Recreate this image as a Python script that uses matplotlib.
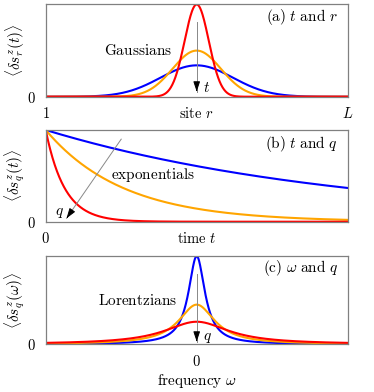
import numpy as np
import matplotlib
matplotlib.use("Agg")
import matplotlib.pyplot as plt

plt.rcParams['mathtext.fontset'] = 'cm'
plt.rcParams['font.family'] = 'DejaVu Serif'

# ---- data ----
colors = ['#0000ff', '#ffa500', '#ff0000']          # blue, orange, red
# (a) Gaussians in site r: peak heights and widths (fraction of chain)
gauss_heights = [0.34, 0.50, 1.00]
gauss_widths = [0.12, 0.08, 0.04]
# (b) exponential decay rates in t (time axis 0..1)
decay_rates = [1.0, 3.9, 16.0]
# (c) Lorentzians in omega (axis -1..1)
lorentz_heights = [1.00, 0.45, 0.256]
lorentz_widths = [0.066, 0.146, 0.26]

texts = {
    'a': r"$\mathrm{(a)}\ t\ \mathrm{and}\ r$",
    'b': r"$\mathrm{(b)}\ t\ \mathrm{and}\ q$",
    'c': r"$\mathrm{(c)}\ \omega\ \mathrm{and}\ q$",
}
fs = 11
tfs = 10.5
spine_col = '#808080'

fig = plt.figure(figsize=(3.74, 3.92), dpi=100)
axa = fig.add_axes([0.1222, 0.7533, 0.8075, 0.2365])
axb = fig.add_axes([0.1222, 0.4344, 0.8075, 0.2340])
axc = fig.add_axes([0.1222, 0.1217, 0.8075, 0.2260])

for ax in (axa, axb, axc):
    for s in ax.spines.values():
        s.set_color(spine_col)
        s.set_linewidth(0.9)
    ax.tick_params(length=0, labelsize=tfs, pad=7)

def down_arrow(ax, x0, y0, x1, y1):
    ax.plot([x0, x1], [y0, y1], color='#888888', lw=0.7, zorder=5)
    dx, dy = x1 - x0, y1 - y0
    ax.annotate('', xy=(x1, y1), xytext=(x1 - 0.02 * dx, y1 - 0.02 * dy),
                arrowprops=dict(arrowstyle='-|>,head_length=0.6,head_width=0.2',
                                color='black', lw=0.7, shrinkA=0, shrinkB=0),
                zorder=6)

ylab_pad = 0.5

# (a)
r = np.linspace(0, 1, 800)
for h, w, c in zip(gauss_heights, gauss_widths, colors):
    axa.plot(r, h * np.exp(-0.5 * ((r - 0.5) / w) ** 2), color=c, lw=1.5)
axa.set_xlim(0, 1)
axa.set_ylim(0, 1.005)
axa.set_xticks([0, 0.5, 1])
axa.set_xticklabels([r"$1$", r"$\mathrm{site}\ r$", r"$L$"])
axa.set_yticks([0])
axa.set_yticklabels([r"$0$"])
axa.set_ylabel(r"$\langle \delta s^z_r(t)\rangle$", fontsize=fs, labelpad=ylab_pad)
down_arrow(axa, 0.5, 0.81, 0.5, 0.055)
axa.text(0.52, 0.09, r"$t$", fontsize=fs, va='center', ha='left')
axa.text(0.307, 0.50, r"$\mathrm{Gaussians}$", fontsize=fs, ha='center', va='center')
axa.text(0.968, 0.86, texts['a'], fontsize=fs, ha='right', va='center')

# (b)
t = np.linspace(0, 1, 800)
for k, c in zip(decay_rates, colors):
    axb.plot(t, np.exp(-k * t), color=c, lw=1.5)
axb.set_xlim(0, 1)
axb.set_ylim(0, 1.0)
axb.set_xticks([0, 0.5])
axb.set_xticklabels([r"$0$", r"$\mathrm{time}\ t$"])
axb.set_yticks([0])
axb.set_yticklabels([r"$0$"])
axb.set_ylabel(r"$\langle \delta s^z_q(t)\rangle$", fontsize=fs, labelpad=ylab_pad)
down_arrow(axb, 0.25, 0.90, 0.069, 0.037)
axb.text(0.046, 0.09, r"$q$", fontsize=fs, va='center', ha='center')
axb.text(0.354, 0.51, r"$\mathrm{exponentials}$", fontsize=fs, ha='center', va='center')
axb.text(0.968, 0.85, texts['b'], fontsize=fs, ha='right', va='center')

# (c)
w = np.linspace(-1, 1, 1200)
for h, g, c in zip(lorentz_heights, lorentz_widths, colors):
    axc.plot(w, h * g ** 2 / (w ** 2 + g ** 2), color=c, lw=1.5)
axc.set_xlim(-1, 1)
axc.set_ylim(0, 1.005)
axc.set_xticks([0])
axc.set_xticklabels([r"$0$"])
axc.set_yticks([0])
axc.set_yticklabels([r"$0$"])
axc.set_xlabel(r"$\mathrm{frequency}\ \omega$", fontsize=fs, labelpad=2)
axc.set_ylabel(r"$\langle \delta s^z_q(\omega)\rangle$", fontsize=fs, labelpad=ylab_pad)
down_arrow(axc, 0.0, 0.80, 0.0, 0.03)
axc.text(0.04, 0.07, r"$q$", fontsize=fs, va='center', ha='left')
axc.text(-0.392, 0.50, r"$\mathrm{Lorentzians}$", fontsize=fs, ha='center', va='center')
axc.text(0.936, 0.86, texts['c'], fontsize=fs, ha='right', va='center')

fig.savefig('out.png', dpi=100)
